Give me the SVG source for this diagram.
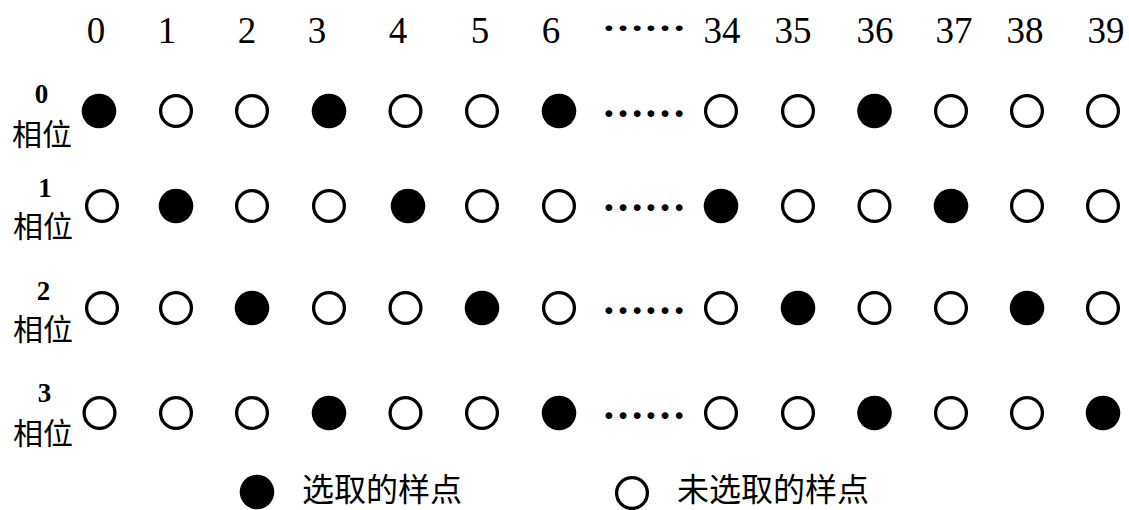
<svg xmlns="http://www.w3.org/2000/svg" width="1129" height="510" viewBox="0 0 1129 510">
<style>
.hdr{font-family:"Liberation Serif","Times New Roman",serif;font-size:37px;fill:#000;text-anchor:middle}
.dots{font-family:"Liberation Serif","Times New Roman",serif;font-size:42px;font-weight:bold;fill:#000}
.hdots{font-family:"Liberation Serif","Times New Roman",serif;font-size:34px;font-weight:bold;fill:#000}
.num{font-family:"Liberation Serif","Times New Roman",serif;font-size:27px;font-weight:bold;fill:#000;text-anchor:middle}
.cjk{font-family:"Noto Sans CJK SC","Noto Sans CJK JP",sans-serif;font-size:30px;fill:#000}
.leg{font-family:"Noto Sans CJK SC","Noto Sans CJK JP",sans-serif;font-size:32px;fill:#000}
.on{fill:#000}
.off{fill:#fff;stroke:#000;stroke-width:3.3}
</style>
<rect width="1129" height="510" fill="#fff"/>
<g id="header">
<text class="hdr" x="96" y="43">0</text>
<text class="hdr" x="167" y="43">1</text>
<text class="hdr" x="247" y="43">2</text>
<text class="hdr" x="317" y="43">3</text>
<text class="hdr" x="398" y="43">4</text>
<text class="hdr" x="480" y="43">5</text>
<text class="hdr" x="551" y="43">6</text>
<text class="hdots" x="602" y="31" textLength="84" lengthAdjust="spacingAndGlyphs">……</text>
<text class="hdr" x="722" y="43">34</text>
<text class="hdr" x="793" y="43">35</text>
<text class="hdr" x="875" y="43">36</text>
<text class="hdr" x="954" y="43">37</text>
<text class="hdr" x="1025" y="43">38</text>
<text class="hdr" x="1106" y="43">39</text>
</g>
<g id="row0">
<text class="num" x="41.5" y="103">0</text>
<text class="cjk" x="12" y="145">相位</text>
<circle class="on" cx="99" cy="111" r="17.3"/>
<circle class="off" cx="176" cy="111" r="15.4"/>
<circle class="off" cx="252" cy="111" r="15.4"/>
<circle class="on" cx="329" cy="111" r="17.3"/>
<circle class="off" cx="405.5" cy="111" r="15.4"/>
<circle class="off" cx="482" cy="111" r="15.4"/>
<circle class="on" cx="559" cy="111" r="17.3"/>
<text class="dots" x="602" y="117">……</text>
<circle class="off" cx="721" cy="111" r="15.4"/>
<circle class="off" cx="798" cy="111" r="15.4"/>
<circle class="on" cx="874.5" cy="111" r="17.3"/>
<circle class="off" cx="951" cy="111" r="15.4"/>
<circle class="off" cx="1027" cy="111" r="15.4"/>
<circle class="off" cx="1103" cy="111" r="15.4"/>
</g>
<g id="row1">
<text class="num" x="45" y="197">1</text>
<text class="cjk" x="13" y="237">相位</text>
<circle class="off" cx="102" cy="206" r="15.4"/>
<circle class="on" cx="176" cy="206" r="17.3"/>
<circle class="off" cx="252" cy="206" r="15.4"/>
<circle class="off" cx="329" cy="206" r="15.4"/>
<circle class="on" cx="408" cy="206" r="17.3"/>
<circle class="off" cx="482" cy="206" r="15.4"/>
<circle class="off" cx="559" cy="206" r="15.4"/>
<text class="dots" x="602" y="211">……</text>
<circle class="on" cx="721" cy="206" r="17.3"/>
<circle class="off" cx="798" cy="206" r="15.4"/>
<circle class="off" cx="874.5" cy="206" r="15.4"/>
<circle class="on" cx="951" cy="206" r="17.3"/>
<circle class="off" cx="1027" cy="206" r="15.4"/>
<circle class="off" cx="1103" cy="206" r="15.4"/>
</g>
<g id="row2">
<text class="num" x="43.5" y="300">2</text>
<text class="cjk" x="13" y="340">相位</text>
<circle class="off" cx="102" cy="308" r="15.4"/>
<circle class="off" cx="176" cy="308" r="15.4"/>
<circle class="on" cx="252" cy="308" r="17.3"/>
<circle class="off" cx="329" cy="308" r="15.4"/>
<circle class="off" cx="405.5" cy="308" r="15.4"/>
<circle class="on" cx="482" cy="308" r="17.3"/>
<circle class="off" cx="559" cy="308" r="15.4"/>
<text class="dots" x="602" y="314">……</text>
<circle class="off" cx="721" cy="308" r="15.4"/>
<circle class="on" cx="798" cy="308" r="17.3"/>
<circle class="off" cx="874.5" cy="308" r="15.4"/>
<circle class="off" cx="951" cy="308" r="15.4"/>
<circle class="on" cx="1027" cy="308" r="17.3"/>
<circle class="off" cx="1103" cy="308" r="15.4"/>
</g>
<g id="row3">
<text class="num" x="44.5" y="402">3</text>
<text class="cjk" x="13" y="444">相位</text>
<circle class="off" cx="99.5" cy="413" r="15.4"/>
<circle class="off" cx="176" cy="413" r="15.4"/>
<circle class="off" cx="252" cy="413" r="15.4"/>
<circle class="on" cx="329" cy="413" r="17.3"/>
<circle class="off" cx="405.5" cy="413" r="15.4"/>
<circle class="off" cx="482" cy="413" r="15.4"/>
<circle class="on" cx="559" cy="413" r="17.3"/>
<text class="dots" x="602" y="419">……</text>
<circle class="off" cx="721" cy="413" r="15.4"/>
<circle class="off" cx="798" cy="413" r="15.4"/>
<circle class="on" cx="874.5" cy="413" r="17.3"/>
<circle class="off" cx="951" cy="413" r="15.4"/>
<circle class="off" cx="1027" cy="413" r="15.4"/>
<circle class="on" cx="1103" cy="413" r="17.3"/>
</g>
<g id="legend-selected">
<circle class="on" cx="257" cy="492" r="17.3"/>
<text class="leg" x="302" y="501">选取的样点</text>
</g>
<g id="legend-unselected">
<circle class="off" cx="632" cy="493" r="15.4"/>
<text class="leg" x="677" y="501">未选取的样点</text>
</g>
</svg>
